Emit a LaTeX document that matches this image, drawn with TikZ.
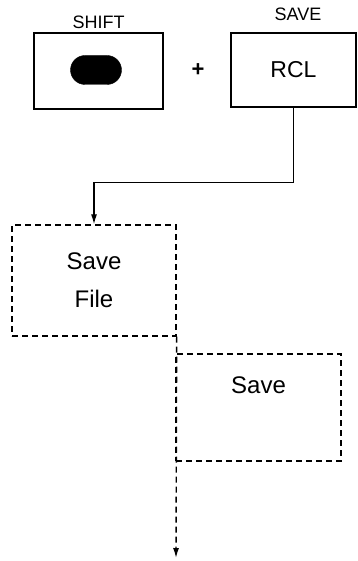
\documentclass[tikz,border=0pt]{standalone}
\usepackage{fontspec}
\setmainfont{Liberation Sans}
\usetikzlibrary{arrows.meta,positioning,shapes.misc}
\tikzset{
  key/.style={draw, line width=1.2pt, inner sep=0pt, font=\fontsize{23}{26}\selectfont},
  keylabel/.style={font=\fontsize{18}{20}\selectfont, inner sep=1pt},
  menu/.style={draw, line width=1.4pt, dash pattern=on 6pt off 4pt, inner sep=0pt, align=center,
    font=\fontsize{24}{38}\selectfont},
  pill/.style={rounded rectangle, fill=black, draw, minimum width=51pt, minimum height=29pt, inner sep=0pt},
  arr/.style={-{Latex[length=10pt,width=6pt]}, line width=1.2pt},
  dasharr/.style={-{Latex[length=10pt,width=6pt]}, line width=1.4pt, dash pattern=on 6pt off 4pt}
}
\begin{document}
\begin{tikzpicture}[x=1pt,y=-1pt]
\useasboundingbox (0,0) rectangle (357,561);
% keys
\node[key, minimum width=129pt, minimum height=76pt] (shift) at (98.5,71) {};
\node[pill] (dot) at (96,70) {};
\node[keylabel, above=3pt of shift] (shiftlbl) {SHIFT};
\node[font=\bfseries\fontsize{22}{24}\selectfont] (plus) at (198,70) {+};
\node[key, minimum width=125pt, minimum height=74pt] (rcl) at (293.5,70) {RCL};
\node[keylabel] (savelbl) at (298,14) {SAVE};
% menu boxes
\node[menu, minimum width=164pt, minimum height=111pt] (savefile) at (94,280.5) {Save\\File};
\node[menu, minimum width=165pt, minimum height=107pt, text depth=44pt] (save) at (258.5,407.5) {Save};
\coordinate (out) at (176,558);
\draw[arr] (rcl.south) -- ++(0,75) -| (savefile.north);
\draw[dasharr] (savefile.south east) -- (out);
\end{tikzpicture}
\end{document}
